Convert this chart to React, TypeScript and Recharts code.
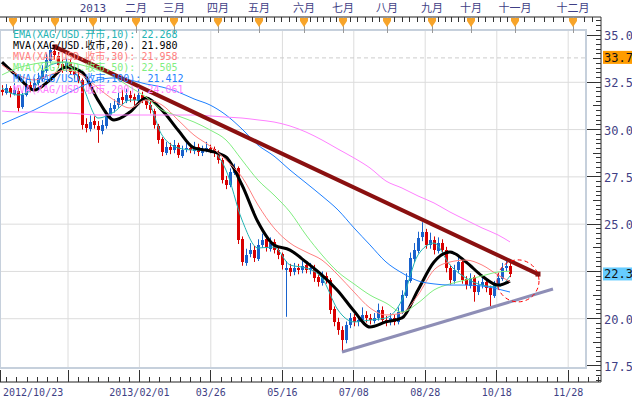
import React from "react";
import {
  ComposedChart,
  Bar,
  Line,
  XAxis,
  YAxis,
  CartesianGrid,
  ReferenceLine,
  ReferenceArea,
  ReferenceDot,
  Legend,
} from "recharts";

// ---------- candle data (one candle ~ two sessions), first candle at day -1 ----------
const FIRST_DAY = -1;
const opens = [
  32.10, 31.95, 32.18, 31.90, 32.05, 31.20, 31.85, 32.35, 32.18, 32.45,
  32.70, 33.10, 33.65, 34.18, 33.90, 33.45, 33.20, 33.55, 33.08, 32.85,
  32.60, 30.30, 30.05, 30.45, 30.20, 29.95, 30.20, 30.75, 31.10, 31.28,
  31.70, 31.52, 31.85, 31.70, 31.52, 31.85, 31.58, 31.32, 31.00, 30.20,
  29.50, 28.78, 29.10, 28.90, 29.20, 28.62, 28.95, 29.05, 28.88, 29.10,
  28.78, 28.95, 29.05, 28.95, 28.78, 28.40, 27.35, 27.05, 27.72, 27.95,
  24.20, 22.95, 23.40, 23.65, 23.18, 23.88, 24.20, 23.70, 24.05, 23.65,
  23.40, 22.55, 22.70, 22.45, 22.70, 22.55, 22.82, 22.55, 22.70, 22.18,
  21.90, 22.28, 22.05, 20.50, 19.85, 19.42, 18.85, 19.65, 20.08, 19.80,
  19.95, 20.22, 20.06, 19.90, 20.02, 20.48, 19.95, 19.80, 20.06, 19.80,
  20.38, 21.22, 22.00, 23.18, 23.60, 24.30, 24.60, 23.88, 24.18, 23.60,
  24.02, 23.65, 22.70, 22.02, 22.55, 23.02, 22.08, 21.75, 22.18, 21.40,
  21.80, 21.96, 21.60, 21.22, 21.80, 22.12, 22.70, 22.80,
];
const highs = [
  32.35, 32.40, 32.30, 32.45, 32.20, 32.00, 32.60, 32.55, 32.70, 33.00,
  33.40, 34.00, 34.55, 34.45, 34.10, 33.70, 33.80, 33.75, 33.30, 33.05,
  32.70, 30.60, 30.75, 30.70, 30.45, 30.50, 31.00, 31.40, 31.60, 31.95,
  32.10, 32.15, 32.05, 31.90, 32.20, 32.00, 31.75, 31.50, 31.10, 30.30,
  29.60, 29.35, 29.30, 29.45, 29.30, 29.15, 29.30, 29.25, 29.35, 29.25,
  29.15, 29.35, 29.20, 29.10, 28.90, 28.50, 27.55, 27.95, 28.20, 28.05,
  24.35, 23.70, 24.00, 23.85, 24.20, 24.50, 24.35, 24.30, 24.20, 23.85,
  23.50, 23.05, 22.90, 22.95, 22.90, 23.05, 23.00, 22.95, 22.85, 22.35,
  22.50, 22.45, 22.15, 20.65, 20.05, 19.60, 19.85, 20.30, 20.25, 20.20,
  20.60, 20.40, 20.25, 20.30, 20.80, 20.65, 20.15, 20.30, 20.20, 20.60,
  21.50, 22.40, 23.50, 24.00, 24.60, 25.10, 24.75, 24.55, 24.35, 24.30,
  24.20, 23.80, 22.85, 22.85, 23.35, 23.15, 22.25, 22.40, 22.30, 22.00,
  22.20, 22.10, 21.75, 22.00, 22.40, 22.95, 23.05, 22.95,
];
const lows = [
  31.80, 31.85, 31.70, 31.80, 30.95, 31.10, 31.75, 32.00, 32.05, 32.30,
  32.55, 33.00, 33.50, 33.70, 33.25, 33.00, 33.05, 32.90, 32.70, 32.45,
  30.00, 29.85, 29.90, 30.05, 29.30, 29.75, 30.05, 30.60, 30.90, 31.15,
  31.35, 31.40, 31.45, 31.30, 31.40, 31.40, 31.10, 30.85, 30.05, 29.25,
  28.60, 28.65, 28.70, 28.75, 28.50, 28.50, 28.80, 28.75, 28.70, 28.60,
  28.60, 28.80, 28.75, 28.55, 28.20, 27.15, 26.85, 26.95, 27.60, 23.95,
  22.80, 22.80, 23.25, 23.00, 23.05, 23.75, 23.55, 23.55, 23.45, 23.15,
  22.60, 20.10, 22.25, 22.30, 22.35, 22.40, 22.40, 22.35, 21.95, 21.70,
  21.75, 21.85, 20.25, 19.60, 19.15, 18.30, 18.70, 19.50, 19.60, 19.60,
  19.85, 19.80, 19.70, 19.75, 19.90, 19.75, 19.60, 19.65, 19.65, 19.70,
  20.25, 21.10, 21.90, 23.00, 23.45, 24.10, 23.70, 23.70, 23.40, 23.45,
  23.40, 22.45, 21.80, 21.85, 22.40, 21.85, 21.55, 21.60, 20.90, 21.25,
  21.60, 21.40, 20.65, 21.10, 21.65, 22.00, 22.50, 22.20,
];
const closes = [
  31.99, 32.20, 31.93, 32.10, 31.14, 31.83, 32.36, 32.20, 32.46, 32.73,
  33.15, 33.68, 34.20, 33.94, 33.41, 33.26, 33.57, 33.04, 32.89, 32.62,
  30.24, 30.08, 30.40, 30.24, 29.98, 30.24, 30.77, 31.14, 31.30, 31.67,
  31.56, 31.83, 31.67, 31.56, 31.83, 31.56, 31.30, 31.03, 30.24, 29.45,
  28.81, 29.08, 28.92, 29.18, 28.66, 28.92, 29.03, 28.92, 29.08, 28.81,
  28.92, 29.03, 28.92, 28.76, 28.39, 27.33, 27.07, 27.76, 27.97, 24.16,
  23.00, 23.37, 23.63, 23.21, 23.90, 24.16, 23.74, 24.00, 23.63, 23.37,
  22.84, 22.68, 22.47, 22.68, 22.58, 22.79, 22.58, 22.68, 22.15, 21.94,
  22.26, 22.05, 20.46, 19.83, 19.40, 18.87, 19.67, 20.04, 19.83, 19.93,
  20.20, 20.04, 19.93, 20.04, 20.46, 19.93, 19.83, 20.04, 19.83, 20.35,
  21.25, 22.05, 23.21, 23.63, 24.27, 24.58, 23.90, 24.16, 23.63, 24.00,
  23.63, 22.68, 22.05, 22.58, 23.00, 22.05, 21.78, 22.15, 21.41, 21.78,
  21.94, 21.62, 21.25, 21.78, 22.15, 22.68, 22.79, 22.34,
];

// ---------- moving averages (sampled) ----------
const maDays = [-1, 3, 7, 11, 15, 19, 23, 27, 31, 35, 39, 43, 47, 51, 55, 59, 63, 67, 71, 75, 79, 83, 87, 91, 95, 99, 103, 107, 111, 115, 119, 123, 126];
const ema10 = [32.2, 31.83, 32.2, 33.41, 33.57, 32.36, 30.61, 30.93, 31.56, 31.56, 29.71, 29.03, 28.92, 28.92, 27.86, 25.22, 23.74, 23.79, 22.84, 22.68, 22.15, 20.46, 19.83, 19.93, 20.04, 20.99, 23.37, 24.0, 22.84, 22.15, 21.78, 21.68, 22.27];
const ma20 = [33.57, 32.78, 32.09, 32.62, 33.31, 33.04, 31.56, 30.51, 30.93, 31.67, 31.03, 29.98, 29.03, 28.87, 28.55, 27.07, 25.11, 23.9, 23.63, 23.0, 22.31, 21.47, 20.41, 19.56, 19.83, 20.04, 21.52, 23.0, 23.53, 23.0, 22.26, 21.78, 21.98];
const ma30 = [33.41, 32.89, 32.62, 32.89, 33.15, 32.89, 32.2, 31.56, 31.14, 31.56, 31.3, 30.51, 29.71, 29.13, 28.39, 27.49, 26.01, 24.8, 24.0, 23.53, 23.1, 22.31, 21.41, 20.57, 20.2, 20.3, 21.25, 22.58, 23.0, 23.1, 22.84, 22.31, 21.96];
const ma50 = [32.89, 33.26, 33.47, 33.57, 33.57, 33.41, 33.15, 32.78, 32.25, 31.72, 31.03, 30.72, 30.4, 29.98, 29.45, 28.39, 27.33, 26.54, 25.64, 24.43, 23.37, 22.47, 21.84, 21.25, 20.83, 20.35, 20.83, 21.52, 21.84, 22.05, 22.26, 22.47, 22.51];
const ma100 = [30.29, 30.66, 31.03, 31.46, 31.88, 32.3, 32.62, 32.73, 32.62, 32.41, 32.25, 31.99, 31.62, 31.3, 30.77, 30.03, 29.18, 28.6, 27.86, 27.18, 26.49, 25.75, 24.8, 23.9, 23.0, 22.42, 22.0, 21.84, 21.78, 21.78, 21.73, 21.57, 21.41];
const ma200 = [30.98, 30.93, 30.93, 30.88, 30.88, 30.82, 30.77, 30.77, 30.77, 30.77, 30.77, 30.77, 30.77, 30.72, 30.66, 30.61, 30.51, 30.4, 30.19, 29.87, 29.45, 28.97, 28.5, 27.97, 27.28, 26.91, 26.49, 26.12, 25.64, 25.22, 24.8, 24.43, 24.06];

// ---------- drawn trend lines ----------
const resistDays = [12.25, 133];
const resistVals = [34.37, 22.36];
const supportDays = [84, 136.75];
const supportVals = [18.24, 21.57];
const circleDay = 128;
const circleVal = 22.0;

// ---------- axes ----------
const monthDays = [1.75, 12.25, 21.75, 32.5, 42, 53, 63.25, 74.5, 84.25, 95.25, 106.5, 116.25, 127.25, 141.75];
const monthLabels = ["", "", "2013", "二月", "三月", "四月", "五月", "六月", "七月", "八月", "九月", "十月", "十一月", "十二月"];
const gridDays = [15.5, 33.35, 51.2, 69.1, 86.95, 104.8, 122.7, 140.55];
const dateTicks = [-1.5, ...gridDays];
const dateLabels = ["2012/10/23", "", "2013/02/01", "03/26", "05/16", "07/08", "08/28", "10/18", "11/28"];
const priceTicks = [17.5, 20, 22.5, 25, 27.5, 30, 32.5, 35];
const gridPrices = [20, 22.5, 25, 27.5, 30, 32.5];
const markValues = [33.79, 22.34];
const markLabels = ["33.79", "22.34"];
const markColors = ["#ff9c00", "#66ccff"];
const dashedLevel = 33.79;

const legendNames = [
  "EMA(XAG/USD.开市,10):",
  "MVA(XAG/USD.收市,20).",
  "MVA(XAG/USD.收市,30):",
  "MVA(XAG/USD.收市,50):",
  "MVA(XAG/USD.收市,100):",
  "MVA(XAG/USD.收市,200):",
];
const legendValues = ["22.268", "21.980", "21.958", "22.505", "21.412", "24.061"];
const lineColors = ["#1fb3b3", "#000000", "#ff8080", "#80ee80", "#1e80ff", "#ff80ff"];

// ---------- derived tables ----------
const candles = closes.map((c, k) => ({ i: FIRST_DAY + k, o: opens[k], h: highs[k], l: lows[k], c }));
const series = (vals: number[]) => vals.map((v, j) => ({ i: maDays[j], v }));
const maSeries = [ema10, ma20, ma30, ma50, ma100, ma200].map(series);
const resistData = resistDays.map((d, j) => ({ i: d, v: resistVals[j] }));
const supportData = supportDays.map((d, j) => ({ i: d, v: supportVals[j] }));

const DOMAIN_X: [number, number] = [-1.5, 148.75];
const DOMAIN_Y: [number, number] = [16.654, 35.952];

const topTicks: number[] = [...monthDays];
topTicks.push(monthDays[0] - (monthDays[1] - monthDays[0]) / 6);
for (let m = 0; m < monthDays.length - 1; m++) {
  const a = monthDays[m];
  const b = monthDays[m + 1];
  for (let s = 1; s <= 5; s++) topTicks.push(a + ((b - a) * s) / 6);
}
topTicks.push(144.5, 146.7);

const gridStep = (gridDays[gridDays.length - 1] - gridDays[0]) / (gridDays.length - 1);
const bottomTicks: number[] = [...dateTicks];
for (let k = -7; k <= 7 * 8; k++) {
  if (k % 7 === 0) continue;
  const t = gridDays[0] + (k * gridStep) / 7;
  if (t > -1.3 && t < 148.6) bottomTicks.push(t);
}

const yTicks: number[] = [];
for (let q = 67; q <= 143; q++) yTicks.push(q / 4);
yTicks.push(...markValues);

const MONO = "'DejaVu Sans Mono', 'Noto Sans CJK SC', monospace";
const AXIS_TXT = "#3f3f85";
const UP = "#1862cc";
const DOWN = "#d80000";

const MonthTick = (props: any) => {
  const { x, y, payload } = props;
  const idx = monthDays.indexOf(payload.value);
  if (idx >= 0) {
    return (
      <g>
        <line x1={x} x2={x} y1={y} y2={y + 16} stroke="#999" shapeRendering="crispEdges" />
        <path d={`M${x - 4},${y + 1} L${x + 4},${y + 1} L${x + 4},${y + 4} L${x},${y + 10} L${x - 4},${y + 4} Z`} fill="#f7a42a" />
        <text x={x} y={y - 5} textAnchor="middle" fontFamily={MONO} fontSize={11} fill={AXIS_TXT}>
          {monthLabels[idx]}
        </text>
      </g>
    );
  }
  return <line x1={x} x2={x} y1={y} y2={y + 5} stroke="#333" shapeRendering="crispEdges" />;
};

const DateTick = (props: any) => {
  const { x, y, payload } = props;
  const idx = dateTicks.indexOf(payload.value);
  if (idx >= 0) {
    const first = idx === 0;
    return (
      <g>
        <line x1={x} x2={x} y1={y} y2={y - 12} stroke="#333" shapeRendering="crispEdges" />
        {dateLabels[idx] ? (
          <text x={first ? x + 3 : x} y={y + 14} textAnchor={first ? "start" : "middle"} fontFamily={MONO} fontSize={10} fill={AXIS_TXT}>
            {dateLabels[idx]}
          </text>
        ) : null}
      </g>
    );
  }
  return <line x1={x} x2={x} y1={y} y2={y - 5} stroke="#333" shapeRendering="crispEdges" />;
};

const PriceTick = (props: any) => {
  const { x, y, payload } = props;
  const v: number = payload.value;
  const mi = markValues.indexOf(v);
  if (mi >= 0) {
    return (
      <g>
        <rect x={x + 2} y={y - 7} width={40} height={13} fill={markColors[mi]} />
        <text x={x + 3} y={y + 4} fontFamily={MONO} fontSize={12} fill="#111">
          {markLabels[mi]}
        </text>
      </g>
    );
  }
  const major = priceTicks.indexOf(v) >= 0;
  const mid = !major && Math.abs(v / 1.25 - Math.round(v / 1.25)) < 1e-6;
  const len = major ? 14 : mid ? 8 : 5;
  const hidden = markValues.some((m) => Math.abs(m - v) < 0.3);
  return (
    <g>
      <line x1={x - len} x2={x} y1={y} y2={y} stroke="#333" shapeRendering="crispEdges" />
      {major && !hidden ? (
        <text x={x + 3} y={y + 5} fontFamily={MONO} fontSize={12} fill={AXIS_TXT}>
          {v.toFixed(2)}
        </text>
      ) : null}
    </g>
  );
};

const Candle = (props: any) => {
  const { x, y, width, height, payload } = props;
  if (!payload) return null;
  const { o, h, l, c } = payload;
  const top = Math.min(y, y + height);
  const hh = Math.abs(height);
  const span = h - l || 1;
  const py = (v: number) => top + ((h - v) / span) * hh;
  const yo = py(o);
  const yc = py(c);
  const color = c >= o ? UP : DOWN;
  const cx = Math.round(x + width / 2);
  const bt = Math.min(yo, yc);
  const bh = Math.max(1, Math.abs(yo - yc));
  return (
    <g>
      <line x1={cx + 0.5} x2={cx + 0.5} y1={top} y2={top + hh} stroke={color} strokeWidth={1} />
      <rect x={cx - 1} y={bt} width={3} height={bh} fill={color} shapeRendering="crispEdges" />
    </g>
  );
};

const SquareDot = (color: string) => (p: any) => (
  <rect key={`${p.cx}-${p.cy}`} x={p.cx - 2.5} y={p.cy - 2.5} width={5} height={5} fill={color} />
);

const renderLegend = () => (
  <div style={{ fontFamily: MONO, fontSize: 10, lineHeight: "11px", whiteSpace: "pre" }}>
    {legendNames.map((n, j) => (
      <div key={j} style={{ color: lineColors[j] }}>
        {n} {legendValues[j]}
      </div>
    ))}
  </div>
);

export default function App() {
  return (
    <div style={{ position: "absolute", left: 0, top: 0, width: 632, height: 399, overflow: "hidden", background: "#fff" }}>
      <ComposedChart width={632} height={399} data={candles} margin={{ top: 0, right: 0, bottom: 0, left: 0 }}>
        <XAxis xAxisId="d" dataKey="i" type="number" domain={DOMAIN_X} allowDataOverflow hide />
        <XAxis xAxisId="g" dataKey="i" type="number" domain={DOMAIN_X} allowDataOverflow hide ticks={gridDays} />
        <XAxis
          xAxisId="top"
          dataKey="i"
          orientation="top"
          type="number"
          domain={DOMAIN_X}
          allowDataOverflow
          height={17}
          ticks={topTicks}
          interval={0}
          tickSize={0}
          tickMargin={0}
          tickLine={false}
          axisLine={{ stroke: "#333" }}
          tick={MonthTick}
        />
        <XAxis
          xAxisId="bottom"
          dataKey="i"
          orientation="bottom"
          type="number"
          domain={DOMAIN_X}
          allowDataOverflow
          height={17}
          ticks={bottomTicks}
          interval={0}
          tickSize={0}
          tickMargin={0}
          tickLine={false}
          axisLine={{ stroke: "#333" }}
          tick={DateTick}
        />
        <YAxis
          yAxisId="p"
          orientation="right"
          type="number"
          domain={DOMAIN_Y}
          allowDataOverflow
          width={31}
          ticks={yTicks}
          interval={0}
          tickSize={0}
          tickMargin={0}
          tickLine={false}
          axisLine={{ stroke: "#333" }}
          tick={PriceTick}
        />
        <YAxis yAxisId="g" type="number" domain={DOMAIN_Y} allowDataOverflow hide ticks={gridPrices} />
        <CartesianGrid xAxisId="g" yAxisId="g" x={0} y={30} width={586} height={338} stroke="#dcdcdc" />
        <ReferenceArea xAxisId="d" yAxisId="p" x1={-1.5} x2={145} y1={17.394} y2={35.264} fill="none" stroke="#c6d0dc" strokeWidth={2} />
        <ReferenceLine
          xAxisId="d"
          yAxisId="p"
          segment={[{ x: -1.5, y: dashedLevel }, { x: 145, y: dashedLevel }]}
          stroke="#cccccc"
          strokeDasharray="4 3"
        />
        <Bar xAxisId="d" yAxisId="p" dataKey={(d: any) => [d.l, d.h]} barSize={3} shape={Candle} fill={UP} isAnimationActive={false} />
        {maSeries.map((data, j) => (
          <Line
            key={j}
            xAxisId="d"
            yAxisId="p"
            data={data}
            dataKey="v"
            type="monotone"
            stroke={lineColors[j]}
            strokeWidth={j === 1 ? 3 : 1}
            dot={false}
            activeDot={false}
            isAnimationActive={false}
          />
        ))}
        <Line xAxisId="d" yAxisId="p" data={supportData} dataKey="v" type="linear" stroke="#8e8eb6" strokeWidth={3} dot={false} activeDot={false} isAnimationActive={false} />
        <Line xAxisId="d" yAxisId="p" data={resistData} dataKey="v" type="linear" stroke="#8a1010" strokeWidth={4} dot={SquareDot("#8a1010")} activeDot={false} isAnimationActive={false} />
        <ReferenceDot xAxisId="d" yAxisId="p" x={circleDay} y={circleVal} r={21} fill="none" stroke="#ff0000" strokeDasharray="4 3" />
        <Legend layout="horizontal" verticalAlign="middle" align="center" wrapperStyle={{ top: 29, left: 13, width: "auto", height: "auto" }} content={renderLegend} />
      </ComposedChart>
    </div>
  );
}
